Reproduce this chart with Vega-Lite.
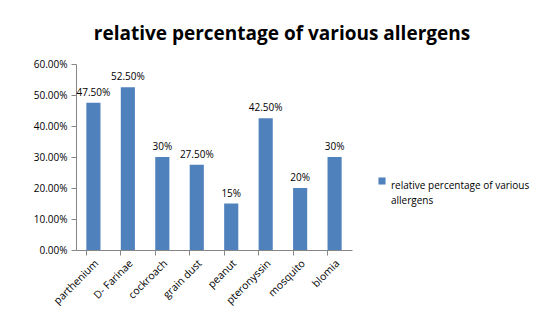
{
  "$schema": "https://vega.github.io/schema/vega-lite/v6.json",
  "autosize": "none",
  "width": 276,
  "height": 186,
  "padding": {"left": 76, "top": 64, "right": 202, "bottom": 75},
  "background": "white",
  "title": {
    "text": "relative percentage of various allergens",
    "font": "Open Sans",
    "fontSize": 19,
    "fontWeight": "bold",
    "color": "#000000",
    "dx": 68,
    "offset": 15
  },
  "data": {
    "values": [
      {"allergen": "parthenium", "value": 0.475, "label": "47.50%", "series": "relative percentage of various allergens"},
      {"allergen": "D- Farinae", "value": 0.525, "label": "52.50%", "series": "relative percentage of various allergens"},
      {"allergen": "cockroach", "value": 0.30, "label": "30%", "series": "relative percentage of various allergens"},
      {"allergen": "grain dust", "value": 0.275, "label": "27.50%", "series": "relative percentage of various allergens"},
      {"allergen": "peanut", "value": 0.15, "label": "15%", "series": "relative percentage of various allergens"},
      {"allergen": "pteronyssin", "value": 0.425, "label": "42.50%", "series": "relative percentage of various allergens"},
      {"allergen": "mosquito", "value": 0.20, "label": "20%", "series": "relative percentage of various allergens"},
      {"allergen": "blomia", "value": 0.30, "label": "30%", "series": "relative percentage of various allergens"}
    ]
  },
  "encoding": {
    "x": {
      "field": "allergen", "type": "nominal", "sort": null, "title": null,
      "scale": {"paddingInner": 0.59, "paddingOuter": 0.3},
      "axis": {
        "labelAngle": -45, "labelAlign": "right", "labelBaseline": "top",
        "labelFont": "Open Sans", "labelFontSize": 10.5, "labelColor": "#000000",
        "domainColor": "#868686", "tickColor": "#868686", "bandPosition": 0,
        "tickSize": 5, "labelPadding": 3
      }
    },
    "y": {
      "field": "value", "type": "quantitative", "title": null,
      "scale": {"domain": [0, 0.6], "nice": false},
      "axis": {
        "values": [0, 0.1, 0.2, 0.3, 0.4, 0.5, 0.6], "format": ".2%",
        "grid": false, "labelFont": "Open Sans", "labelFontSize": 10, "labelColor": "#000000",
        "domainColor": "#868686", "tickColor": "#868686", "tickSize": 5, "labelPadding": 4
      }
    }
  },
  "layer": [
    {
      "mark": {"type": "bar", "color": "#4F81BD"},
      "encoding": {
        "color": {
          "field": "series", "type": "nominal", "title": null,
          "scale": {"range": ["#4F81BD"]},
          "legend": {
            "orient": "none", "legendX": 301, "legendY": 112,
            "symbolType": "square", "symbolSize": 50,
            "labelFont": "Open Sans", "labelFontSize": 10, "labelColor": "#000000",
            "labelExpr": "['relative percentage of various', 'allergens']",
            "labelLimit": 300, "labelBaseline": "top", "labelOffset": 4,
            "encode": {"labels": {"update": {"lineHeight": {"value": 15}}}}
          }
        }
      }
    },
    {
      "mark": {"type": "text", "dy": -10, "font": "Open Sans", "fontSize": 10, "color": "#000000"},
      "encoding": {"text": {"field": "label"}}
    }
  ],
  "config": {"view": {"stroke": null}}
}
